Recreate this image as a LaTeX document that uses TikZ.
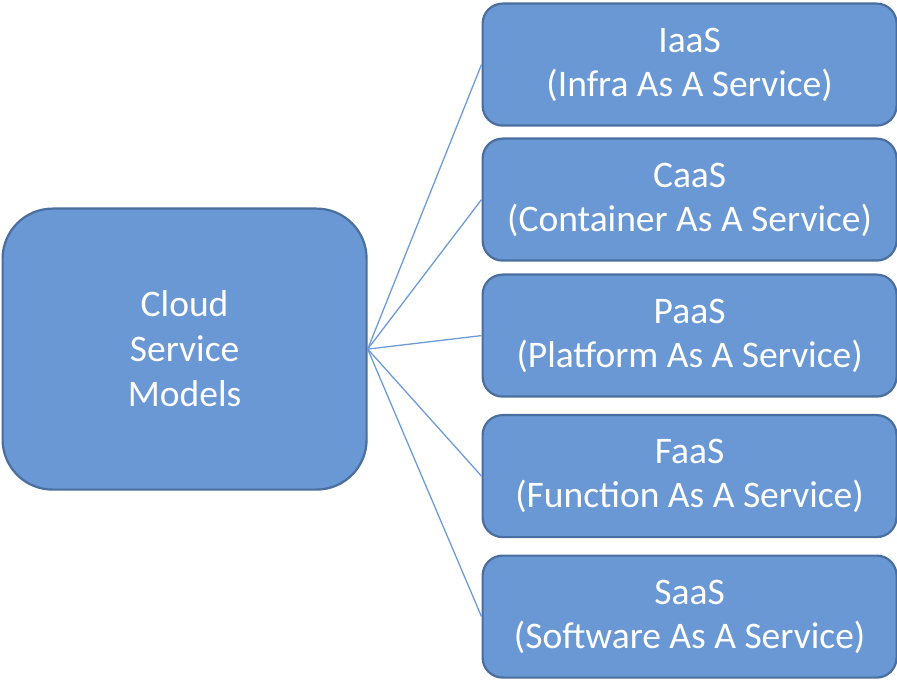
\documentclass[tikz,border=0pt]{standalone}
\usepackage{fontspec}
\setmainfont{Carlito}
\definecolor{boxfill}{HTML}{6A98D4}
\definecolor{boxdraw}{HTML}{4A6E9E}
\definecolor{linkcol}{HTML}{6E9BD8}
\begin{document}
\begin{tikzpicture}[x=1pt,y=-1pt,
  svcbox/.style={draw=boxdraw,fill=boxfill,line width=2.2pt,rounded corners=20pt,
    minimum width=414pt,minimum height=122pt,inner sep=0pt,text=white,
    font=\fontsize{37.5}{44}\selectfont,align=center,anchor=north west},
  hubbox/.style={draw=boxdraw,fill=boxfill,line width=2.2pt,rounded corners=50pt,
    minimum width=364pt,minimum height=281pt,inner sep=0pt,text=white,
    font=\fontsize{37.5}{45}\selectfont,align=center,anchor=north west},
  link/.style={draw=linkcol,line width=1.3pt}]
\useasboundingbox (0,0) rectangle (897,684);
\node[hubbox] (hub) at (1.5,207.5) {Cloud\\Service\\Models};
\node[svcbox] (iaas) at (481.5,2.5) {IaaS\\(Infra As A Service)};
\node[svcbox] (caas) at (481.5,137.5) {CaaS\\(Container As A Service)};
\node[svcbox] (paas) at (481.5,273.5) {PaaS\\(Platform As A Service)};
\node[svcbox] (faas) at (481.5,414) {FaaS\\(Function As A Service)};
\node[svcbox] (saas) at (481.5,554.5) {SaaS\\(Software As A Service)};
\foreach \t in {iaas,caas,paas,faas,saas}
  \draw[link] (hub.east) -- (\t.west);
\end{tikzpicture}
\end{document}
